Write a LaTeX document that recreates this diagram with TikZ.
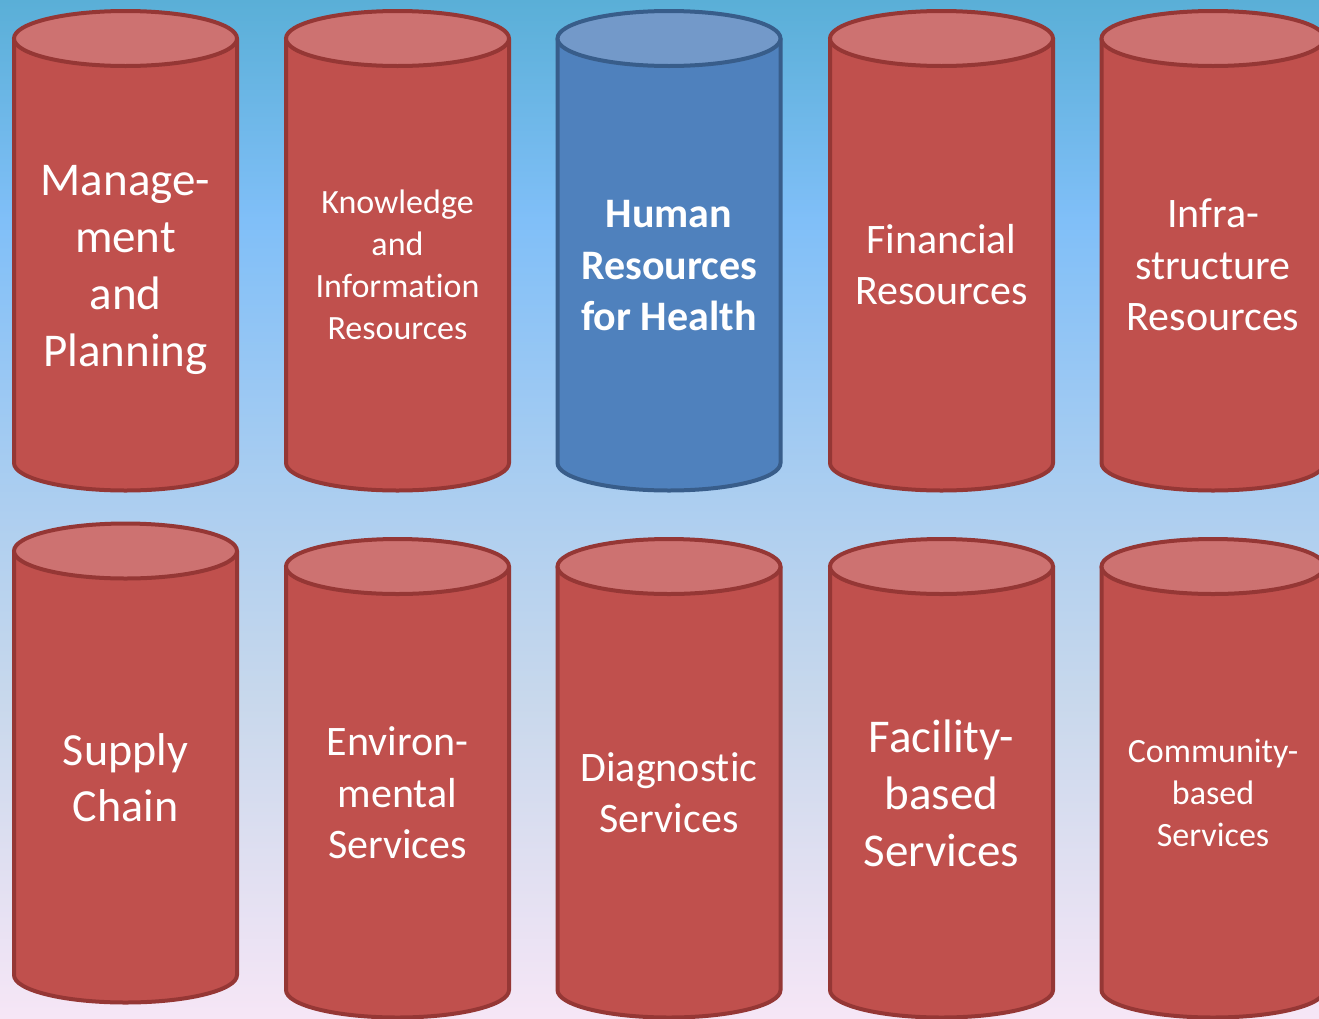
\documentclass[tikz,border=0pt]{standalone}
\usepackage{fontspec}
\setmainfont[Ligatures=NoCommon]{Carlito}

\definecolor{skyTop}{RGB}{90,175,215}
\definecolor{skyPeak}{RGB}{128,191,248}
\definecolor{skyMid}{RGB}{172,206,240}
\definecolor{skyLow}{RGB}{200,216,236}
\definecolor{skyBottom}{RGB}{246,230,246}
\definecolor{pillarRed}{RGB}{192,80,77}
\definecolor{pillarRedTop}{RGB}{205,114,113}
\definecolor{pillarRedLine}{RGB}{149,55,53}
\definecolor{pillarBlue}{RGB}{79,129,189}
\definecolor{pillarBlueTop}{RGB}{115,153,201}
\definecolor{pillarBlueLine}{RGB}{56,93,138}

\pgfdeclareverticalshading{skyfade}{100bp}{color(0bp)=(skyBottom); color(25bp)=(skyBottom);
  color(40.6bp)=(skyLow); color(50.4bp)=(skyMid); color(64.2bp)=(skyPeak);
  color(75bp)=(skyTop); color(100bp)=(skyTop)}

\tikzset{
  redbody/.style={fill=pillarRed, draw=pillarRedLine, line width=4pt},
  redtop/.style={fill=pillarRedTop, draw=pillarRedLine, line width=4pt},
  bluebody/.style={fill=pillarBlue, draw=pillarBlueLine, line width=4pt},
  bluetop/.style={fill=pillarBlueTop, draw=pillarBlueLine, line width=4pt},
  pillartext/.style={text=white, align=center, inner sep=0pt}
}

\begin{document}
\begin{tikzpicture}[x=1pt,y=1pt]
% Parameters
\def\rx{111.5}
\def\ry{27.5}
% x, top y, bottom y, style
\def\pillar#1#2#3#4{
\draw[#4body] ({#1-\rx},#2) -- ({#1-\rx},#3) arc[start angle=180,end angle=360,x radius=\rx pt,y radius=\ry pt] -- ({#1+\rx},#2);
\draw[#4top] (#1,#2) ellipse[x radius=\rx pt,y radius=\ry pt];
}

\useasboundingbox (0,0) rectangle (1319,-1018);
\clip (0,0) rectangle (1319,-1018);

% Background
\fill[shading=skyfade] (0,0) rectangle (1319,-1018);

% Top row
\pillar{125.5}{-38.5}{-463}{red}
\pillar{397.5}{-38.5}{-463}{red}
\pillar{669}{-38.5}{-463}{blue}
\pillar{941.5}{-38.5}{-463}{red}
\pillar{1213}{-38.5}{-463}{red}

% Bottom row
\pillar{125.5}{-551}{-975}{red}
\pillar{397.5}{-566.5}{-990}{red}
\pillar{669}{-566.5}{-990}{red}
\pillar{941.5}{-566.5}{-990}{red}
\pillar{1213}{-566.5}{-990}{red}

% Labels
\node[pillartext, font=\fontsize{47}{57}\selectfont] (mgmt) at (125.5,-270) {Manage-\\ment\\and\\Planning};
\node[pillartext, font=\fontsize{34}{42}\selectfont] (knowledge) at (397.5,-265) {Knowledge\\and\\Information\\Resources};
\node[pillartext, font=\fontsize{42}{51.5}\selectfont\bfseries] (hrh) at (669,-266) {Human\\Resources\\for Health};
\node[pillartext, font=\fontsize{42}{51}\selectfont] (finance) at (941.5,-265) {Financial\\Resources};
\node[pillartext, font=\fontsize{42}{51.5}\selectfont] (infra) at (1213,-265) {Infra-\\structure\\Resources};

\node[pillartext, font=\fontsize{46}{56}\selectfont] (supply) at (125.5,-778) {Supply\\Chain};
\node[pillartext, font=\fontsize{42}{51.5}\selectfont] (environ) at (397.5,-793) {Environ-\\mental\\Services};
\node[pillartext, font=\fontsize{42}{51}\selectfont] (diagnostic) at (669,-793) {Diagnostic\\Services};
\node[pillartext, font=\fontsize{47}{57}\selectfont] (facility) at (941.5,-793) {Facility-\\based\\Services};
\node[pillartext, font=\fontsize{34}{42}\selectfont] (community) at (1213,-793) {Community-\\based\\Services};
\end{tikzpicture}
\end{document}
